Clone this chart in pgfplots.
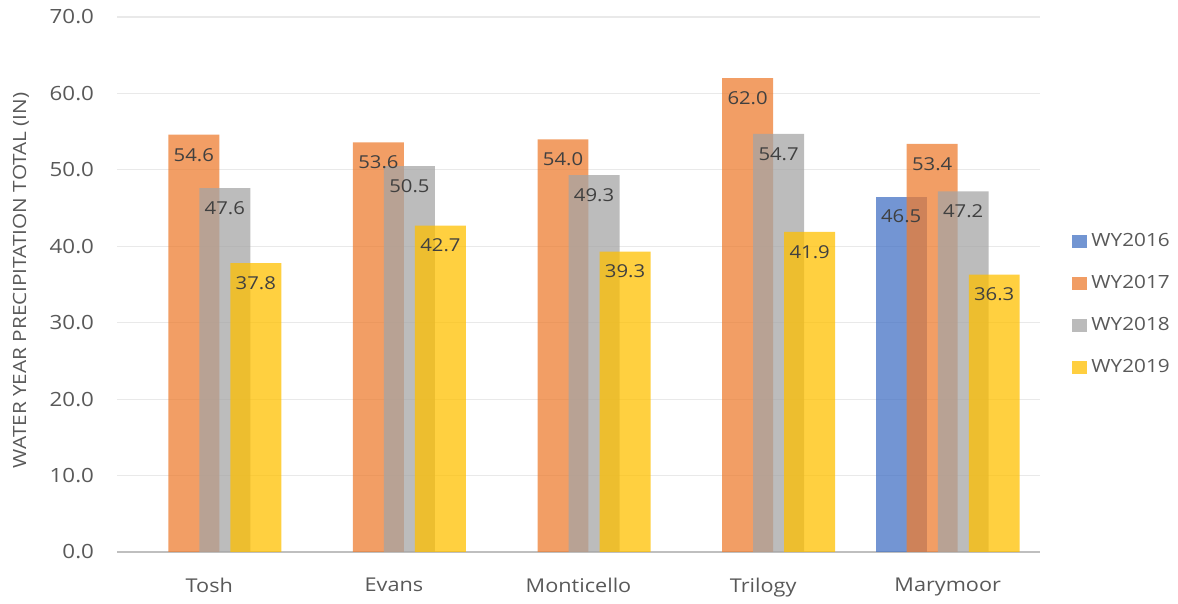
\documentclass[border=0pt]{standalone}
\usepackage{pgfplots}
\pgfplotsset{compat=1.18}
\usepackage{fontspec}
\setmainfont{Open Sans}[FakeStretch=1.14]

\definecolor{cBlue}{HTML}{4472C4}
\definecolor{cOrange}{HTML}{ED7D31}
\definecolor{cGray}{HTML}{A5A5A5}
\definecolor{cYellow}{HTML}{FFC000}
\definecolor{tickText}{HTML}{595959}
\definecolor{valText}{HTML}{404040}
\definecolor{gridC}{HTML}{E9E9E9}
\definecolor{baseC}{HTML}{BFBFBF}

\tikzset{
  onedec/.style={
    /pgf/number format/fixed,
    /pgf/number format/fixed zerofill,
    /pgf/number format/precision=1,
    /pgf/number format/assume math mode=true},
}
% one bar series: fill colour, offset from the category centre (axis units)
\pgfplotsset{
  wybar/.style 2 args={
    ybar, bar width=0.276, bar shift=#2, draw=none,
    fill=#1, fill opacity=0.75,
    nodes near coords,
    nodes near coords style={onedec},
    every node near coord/.append style={
      anchor=center, xshift=#2*92.3pt, yshift=-10pt,
      font=\fontsize{8.9}{11}\selectfont,
      text=valText, text opacity=1, fill opacity=1, on layer=axis foreground},
  },
}

\begin{document}
\begin{tikzpicture}
\begin{axis}[
  set layers,
  scale only axis,
  width=461.5pt, height=267.5pt,
  xmin=-0.5, xmax=4.5,
  ymin=0, ymax=70,
  xtick={0,1,2,3,4},
  xticklabels={Tosh,Evans,Monticello,Trilogy,Marymoor},
  ytick={0,10,...,70},
  xticklabel style={font=\fontsize{9.5}{11}\selectfont, text=tickText, yshift=-9.5pt},
  yticklabel style={onedec, font=\fontsize{9.8}{11}\selectfont, text=tickText, xshift=-8pt},
  major tick length=0pt,
  axis x line*=bottom, axis y line*=left,
  x axis line style={draw=baseC, line width=1pt},
  y axis line style={draw=none},
  ymajorgrids, grid style={draw=gridC, line width=0.6pt},
  ylabel={WATER YEAR PRECIPITATION TOTAL (IN)},
  ylabel style={font=\fontsize{9.1}{11}\selectfont, text=tickText,
    at={(axis description cs:-0.104,0.508)}, anchor=center},
  legend style={at={(rel axis cs:1.0347,0.463)}, anchor=west, draw=none,
    font=\fontsize{9.1}{11}\selectfont, text=tickText,
    row sep=8.9pt, inner sep=0pt,
    /tikz/every even column/.append style={column sep=1pt}},
  legend cell align=left,
  legend image code/.code={\fill[#1] (0pt,-3.3pt) rectangle (7.5pt,3.3pt);},
]
\addplot[wybar={cBlue}{-0.252}] coordinates {(4,46.5)};
\addplot[wybar={cOrange}{-0.084}] coordinates {(0,54.6) (1,53.6) (2,54.0) (3,62.0) (4,53.4)};
\addplot[wybar={cGray}{0.084}] coordinates {(0,47.6) (1,50.5) (2,49.3) (3,54.7) (4,47.2)};
\addplot[wybar={cYellow}{0.252}] coordinates {(0,37.8) (1,42.7) (2,39.3) (3,41.9) (4,36.3)};
\legend{WY2016,WY2017,WY2018,WY2019}
\coordinate (pageBL) at (rel axis cs:-0.1268,-0.086);
\coordinate (pageTR) at (rel axis cs:1.1495,1.0318);
\end{axis}
\path (pageBL) rectangle (pageTR);
\end{tikzpicture}
\end{document}
